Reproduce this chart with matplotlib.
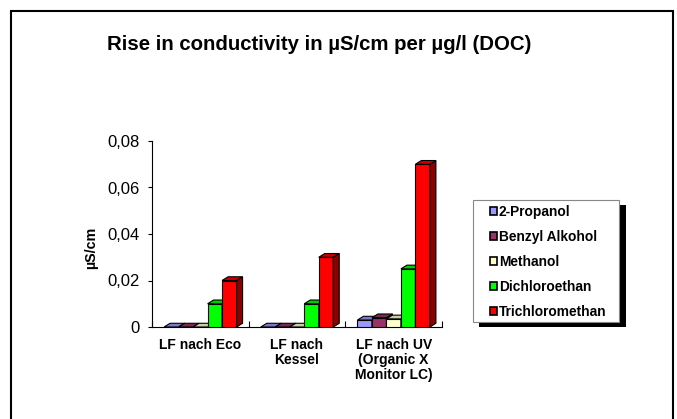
import matplotlib
matplotlib.use("Agg")
from matplotlib import pyplot as plt
from matplotlib.patches import Polygon, Rectangle
from matplotlib.colors import to_rgb
import numpy as np

plt.rcParams["font.family"] = ["Liberation Sans", "DejaVu Sans"]

categories = ["LF nach Eco", "LF nach\nKessel", "LF nach UV\n(Organic X\nMonitor LC)"]
series = ["2-Propanol", "Benzyl Alkohol", "Methanol", "Dichloroethan", "Trichloromethan"]
values = {
    "2-Propanol": [0.0, 0.0, 0.003],
    "Benzyl Alkohol": [0.0, 0.0, 0.004],
    "Methanol": [0.0, 0.0, 0.0035],
    "Dichloroethan": [0.01, 0.01, 0.025],
    "Trichloromethan": [0.02, 0.03, 0.07],
}
colors = ["#9999FF", "#993366", "#FFFFCC", "#00FF00", "#FF0000"]
yticks = [0, 0.02, 0.04, 0.06, 0.08]
ytick_labels = ["0", "0,02", "0,04", "0,06", "0,08"]

W, H = 677, 419


def shade(c, f):
    r, g, b = to_rgb(c)
    return (r * f, g * f, b * f)


def fig_rect(x0, y0, x1, y1, **kw):
    # rectangle in pixel coords from top-left
    return Rectangle((x0 / W, 1 - y1 / H), (x1 - x0) / W, (y1 - y0) / H,
                     transform=fig.transFigure, **kw)


fig = plt.figure(figsize=(6.77, 4.19), dpi=100)
fig.patches.append(fig_rect(11, 11, 673, 440, fill=False, edgecolor="black",
                            linewidth=1.5))

ax = fig.add_axes([152 / W, (H - 327) / H, 290 / W, 186 / H])
x = np.arange(len(categories))
width = 0.15
dx, dy = 0.062, 0.0016

for j, name in enumerate(series):
    offs = (j - 2) * width
    bars = ax.bar(x + offs, values[name], width, color=colors[j],
                  edgecolor="black", linewidth=0.8, zorder=3)
    for b in bars:
        x0, w, h = b.get_x(), b.get_width(), b.get_height()
        top = Polygon([(x0, h), (x0 + dx, h + dy), (x0 + w + dx, h + dy), (x0 + w, h)],
                      closed=True, facecolor=shade(colors[j], 0.8),
                      edgecolor="black", linewidth=0.8, zorder=3)
        side = Polygon([(x0 + w, 0), (x0 + w + dx, dy), (x0 + w + dx, h + dy), (x0 + w, h)],
                       closed=True, facecolor=shade(colors[j], 0.55),
                       edgecolor="black", linewidth=0.8, zorder=3)
        ax.add_patch(side)
        ax.add_patch(top)

ax.set_xlim(-0.5, 2.5)
ax.set_ylim(0, 0.08)
ax.set_yticks(yticks)
ax.set_yticklabels(ytick_labels, fontsize=12)
ax.set_xticks([-0.5, 0.5, 1.5, 2.5])
ax.set_xticklabels([])
ax.set_xticks(x, minor=True)
ax.set_xticklabels(categories, minor=True, fontsize=10, fontweight="bold",
                   linespacing=1.08)
ax.tick_params(axis="x", which="minor", length=0, pad=8)
ax.tick_params(axis="x", which="major", length=4, direction="in")
ax.tick_params(axis="y", length=3, direction="out", pad=6)
for s in ["top", "right"]:
    ax.spines[s].set_visible(False)
ax.set_ylabel("µS/cm", fontsize=10.3, fontweight="bold", va="center")
ax.yaxis.set_label_coords((91 - 152) / 290, (327 - 248) / 186)

fig.text(319 / W, 1 - 45 / H, "Rise in conductivity in µS/cm per µg/l (DOC)",
         ha="center", va="center", fontsize=14.7, fontweight="bold")

# legend box with hard shadow
fig.patches.append(fig_rect(479, 205, 626, 327, facecolor="black", edgecolor="none"))
fig.patches.append(fig_rect(473, 200, 619, 322, facecolor="white",
                            edgecolor="#888888", linewidth=0.8))
handles = [Rectangle((0, 0), 1, 1, facecolor=c, edgecolor="black", linewidth=1.2)
           for c in colors]
fig.legend(handles, series, loc="upper left",
           bbox_to_anchor=(490 / W, 1 - 205 / H), borderaxespad=0, borderpad=0,
           prop={"weight": "bold", "size": 9.9}, frameon=False,
           handlelength=0.5, handleheight=0.5, handletextpad=0.15,
           labelspacing=0.8)

fig.savefig("out.png", dpi=100)
